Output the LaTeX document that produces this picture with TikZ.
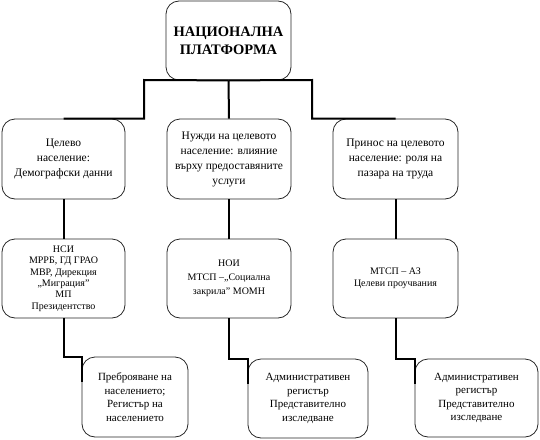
\documentclass[tikz,border=0pt]{standalone}
\usepackage{fontspec}
\setmainfont{Liberation Serif}
\newfontfamily\timesfont{Liberation Serif}
\usepackage{tikz}
\usetikzlibrary{positioning}

\begin{document}
\begin{tikzpicture}[x=1pt, y=-1pt,
    box/.style={draw=black!85, line width=0.8pt, rounded corners=13pt,
      inner sep=2pt, align=center},
    conn/.style={draw=black, line width=2pt},
    every node/.style={font=\timesfont\fontsize{11.5}{15}\selectfont}]
  \useasboundingbox (0,0) rectangle (540,439);

  % top of the tree
  \node[box, minimum width=125pt, minimum height=79pt,
        font=\timesfont\fontsize{14.5}{18}\selectfont\bfseries]
    (platform) at (228.5,40.5) {НАЦИОНАЛНА\\ПЛАТФОРМА};

  % first row
  \node[box, minimum width=123pt, minimum height=80pt]
    (target) at (63.5,159) {Целево\\население:\\Демографски данни};
  \node[box, minimum width=124pt, minimum height=80pt]
    (needs) at (229,159) {Нужди на целевото\\население: влияние\\върху предоставяните\\услуги};
  \node[box, minimum width=125pt, minimum height=80pt]
    (labour) at (395.5,159) {Принос на целевото\\население: роля на\\пазара на труда};

  % second row
  \node[box, minimum width=123pt, minimum height=79pt,
        font=\timesfont\fontsize{10}{11.3}\selectfont]
    (nsi) at (63.5,278.5) {НСИ\\МРРБ, ГД ГРАО\\МВР, Дирекция\\„Миграция”\\МП\\Президентство};
  \node[box, minimum width=124pt, minimum height=79pt,
        font=\timesfont\fontsize{10}{14}\selectfont]
    (noi) at (229,278.5) {НОИ\\МТСП –„Социална\\закрила” МОМН};
  \node[box, minimum width=125pt, minimum height=79pt,
        font=\timesfont\fontsize{10}{12.5}\selectfont]
    (mtsp) at (395.5,278.5) {МТСП – АЗ\\Целеви проучвания};

  % third row
  \node[box, minimum width=106pt, minimum height=80pt,
        font=\timesfont\fontsize{11}{13.5}\selectfont]
    (census) at (135,397) {Преброяване на\\населението;\\Регистър на\\населението};
  \node[box, minimum width=120pt, minimum height=79pt,
        font=\timesfont\fontsize{11}{13.5}\selectfont]
    (admin) at (308,398.5) {Административен\\регистър\\Представително\\изследване};
  \node[box, minimum width=123pt, minimum height=78pt,
        font=\timesfont\fontsize{11}{13.5}\selectfont]
    (survey) at (476.5,398) {Административен\\регистър\\Представително\\изследване};

  % connectors
  \coordinate (jl) at (144,80);
  \coordinate (jr) at (312,80);
  \draw[conn] (platform.south) -- (jl) |- (target.north);
  \draw[conn] (platform.south) -- (jr) |- (labour.north);
  \draw[conn] (platform.south) -- (needs.north);

  \draw[conn] (target.south) -- (nsi.north);
  \draw[conn] (needs.south) -- (noi.north);
  \draw[conn] (labour.south) -- (mtsp.north);

  \draw[conn] (nsi.south) |- (census.north west) -- ++(0,25);
  \draw[conn] (noi.south) |- (admin.north west) -- ++(0,25);
  \draw[conn] (mtsp.south) |- (survey.north west) -- ++(0,25);
\end{tikzpicture}
\end{document}
